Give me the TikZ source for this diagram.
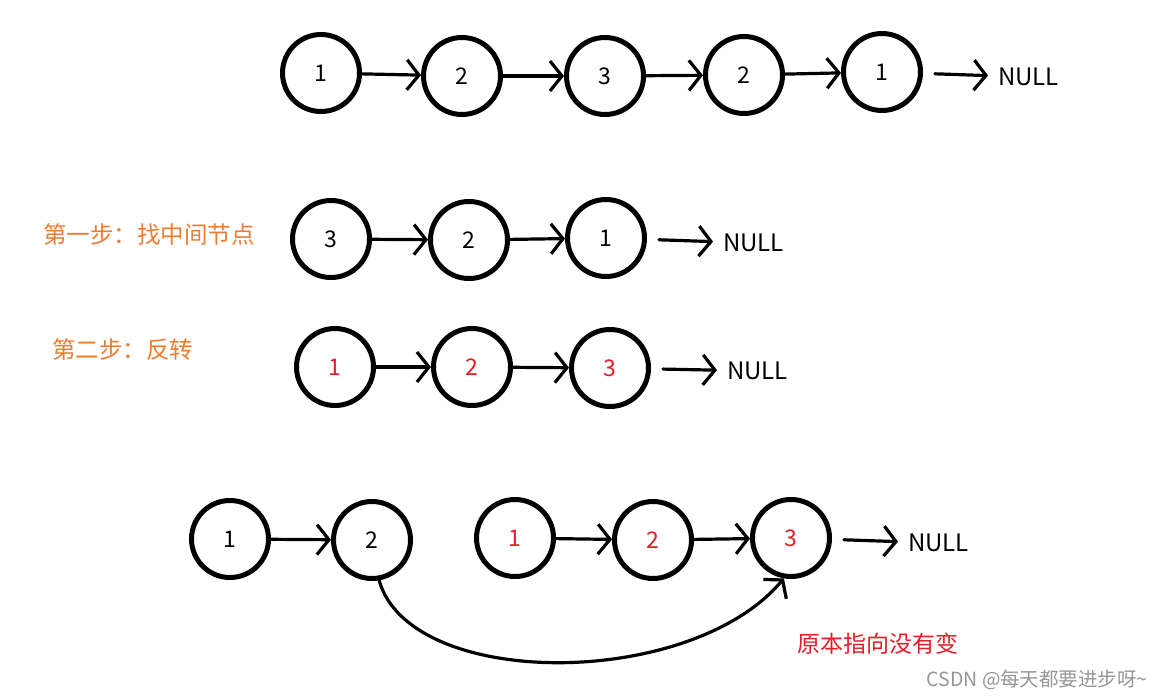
\documentclass[tikz,border=0pt]{standalone}
\usepackage{fontspec}
\setmainfont{Noto Sans CJK SC}
\usetikzlibrary{arrows.meta}
\definecolor{stepor}{RGB}{237,125,49}
\definecolor{redtxt}{RGB}{228,30,38}
\definecolor{wmgray}{RGB}{150,150,150}
\begin{document}
\begin{tikzpicture}[x=1pt,y=-1pt,
  lnode/.style={circle,draw=black,line width=5pt,minimum size=77pt,inner sep=0pt,font=\fontsize{23}{27}\selectfont},
  rnode/.style={lnode,text=redtxt},
  link/.style={line width=3.2pt,line cap=round,-{Straight Barb[length=12pt,width=30pt,line width=3.2pt]}},
  nulltxt/.style={anchor=west,inner sep=0pt,font=\fontsize{24}{28}\selectfont},
  steplabel/.style={anchor=west,inner sep=0pt,text=stepor,font=\fontsize{23.5}{28}\selectfont}]
\useasboundingbox (0,0) rectangle (1158,699);
\fill[white] (0,0) rectangle (1158,699);
% row 1
\node[lnode] (a1) at (321,73) {1};
\node[lnode] (a2) at (462,76) {2};
\node[lnode] (a3) at (605,76) {3};
\node[lnode] (a4) at (744,75) {2};
\node[lnode] (a5) at (882,72) {1};
\node[nulltxt] (n1) at (998,77) {NULL};
\draw[link] (a1) -- (a2);
\draw[link] (a2) -- (a3);
\draw[link] (a3) -- (a4);
\draw[link] (a4) -- (a5);
\draw[link,shorten <=12pt,shorten >=10pt] (a5) -- (n1);
% row 2
\node[steplabel] (s1) at (43,235) {第一步：找中间节点};
\node[lnode] (b1) at (331,239) {3};
\node[lnode] (b2) at (469,240) {2};
\node[lnode] (b3) at (606,238) {1};
\node[nulltxt] (n2) at (723,243) {NULL};
\draw[link] (b1) -- (b2);
\draw[link] (b2) -- (b3);
\draw[link,shorten <=12pt,shorten >=10pt] (b3) -- (n2);
% row 3
\node[steplabel] (s2) at (52,350) {第二步：反转};
\node[rnode] (c1) at (335,367) {1};
\node[rnode] (c2) at (472,367) {2};
\node[rnode] (c3) at (610,368) {3};
\node[nulltxt] (n3) at (727,371) {NULL};
\draw[link] (c1) -- (c2);
\draw[link] (c2) -- (c3);
\draw[link,shorten <=12pt,shorten >=10pt] (c3) -- (n3);
% row 4
\node[lnode] (d1) at (230,539) {1};
\node[lnode] (d2) at (372,540) {2};
\node[rnode] (e1) at (515,538) {1};
\node[rnode] (e2) at (653,540) {2};
\node[rnode] (e3) at (791,538) {3};
\node[nulltxt] (n4) at (908,543) {NULL};
\draw[link] (d1) -- (d2);
\draw[link] (e1) -- (e2);
\draw[link] (e2) -- (e3);
\draw[link,shorten <=12pt,shorten >=10pt] (e3) -- (n4);
\draw[link] (d2.-80) .. controls (410,690) and (690,690) .. (e3.-100);
\node[anchor=center,inner sep=0pt,text=redtxt,font=\fontsize{23}{27}\selectfont] (note) at (878,644) {原本指向没有变};
\node[anchor=east,inner sep=0pt,text=wmgray,font=\fontsize{19.5}{23}\selectfont] (wm) at (1148,680) {CSDN @每天都要进步呀\textasciitilde};
\end{tikzpicture}
\end{document}
